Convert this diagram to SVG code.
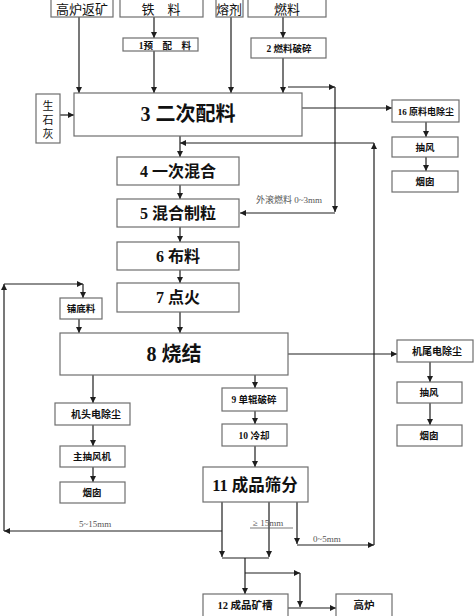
<svg xmlns="http://www.w3.org/2000/svg" width="474" height="616" viewBox="0 0 474 616">
<style>
.box{fill:#fff;stroke:#6e6e6e;stroke-width:1.2}
.ln{fill:none;stroke:#1e1e1e;stroke-width:1.2}
.t{font-family:"Liberation Serif","Noto Sans CJK SC",serif;font-weight:bold;fill:#111;text-anchor:middle}
.n{font-family:"Liberation Serif","Noto Sans CJK SC",serif;fill:#111;text-anchor:middle}
.g{font-family:"Liberation Serif","Noto Sans CJK SC",serif;fill:#555;font-size:9px}
</style>
<defs>
<marker id="a" viewBox="0 0 6 6" refX="6" refY="3" markerWidth="6" markerHeight="6" markerUnits="userSpaceOnUse" orient="auto">
<path d="M0,0 L6,3 L0,6 z" fill="#1e1e1e"/>
</marker>
</defs>
<rect width="474" height="616" fill="#fff"/>

<g id="connectors">
<path class="ln" d="M79,17 V93" marker-end="url(#a)"/>
<path class="ln" d="M154,17 V38" marker-end="url(#a)"/>
<path class="ln" d="M154,51 V93" marker-end="url(#a)"/>
<path class="ln" d="M231,17 V93" marker-end="url(#a)"/>
<path class="ln" d="M283,17 V38" marker-end="url(#a)"/>
<path class="ln" d="M283,58 V93" marker-end="url(#a)"/>
<path class="ln" d="M60,115 H74" marker-end="url(#a)"/>
<path class="ln" d="M288,87 H335" marker-end="url(#a)"/>
<path class="ln" d="M335,87 V212" marker-end="url(#a)"/>
<path class="ln" d="M335,213 H240" marker-end="url(#a)"/>
<path class="ln" d="M302,108 H392" marker-end="url(#a)"/>
<path class="ln" d="M426,122 V137" marker-end="url(#a)"/>
<path class="ln" d="M426,157 V171" marker-end="url(#a)"/>
<path class="ln" d="M180,136 V157" marker-end="url(#a)"/>
<path class="ln" d="M297,502 V544" marker-end="url(#a)"/>
<path class="ln" d="M297,545 H374" marker-end="url(#a)"/>
<path class="ln" d="M374,545 V143" marker-end="url(#a)"/>
<path class="ln" d="M374,143 H180" marker-end="url(#a)"/>
<path class="ln" d="M180,185 V199" marker-end="url(#a)"/>
<path class="ln" d="M180,227 V242" marker-end="url(#a)"/>
<path class="ln" d="M180,270 V283" marker-end="url(#a)"/>
<path class="ln" d="M180,312 V333" marker-end="url(#a)"/>
<path class="ln" d="M222,531 H4" marker-end="url(#a)"/>
<path class="ln" d="M4,531 V284" marker-end="url(#a)"/>
<path class="ln" d="M4,284 H83" marker-end="url(#a)"/>
<path class="ln" d="M83,284 V298" marker-end="url(#a)"/>
<path class="ln" d="M79,319 V333" marker-end="url(#a)"/>
<path class="ln" d="M288,354 H397" marker-end="url(#a)"/>
<path class="ln" d="M430,362 V382" marker-end="url(#a)"/>
<path class="ln" d="M430,403 V425" marker-end="url(#a)"/>
<path class="ln" d="M93,375 V403" marker-end="url(#a)"/>
<path class="ln" d="M93,425 V446" marker-end="url(#a)"/>
<path class="ln" d="M93,467 V482" marker-end="url(#a)"/>
<path class="ln" d="M255,375 V388" marker-end="url(#a)"/>
<path class="ln" d="M255,411 V424" marker-end="url(#a)"/>
<path class="ln" d="M255,446 V467" marker-end="url(#a)"/>
<path class="ln" d="M222,502 V557" marker-end="url(#a)"/>
<path class="ln" d="M269,502 V557" marker-end="url(#a)"/>
<path class="ln" d="M222,558 H269"/>
<path class="ln" d="M245,558 V594" marker-end="url(#a)"/>
<path class="ln" d="M245,573 H300" marker-end="url(#a)"/>
<path class="ln" d="M300,573 V607" marker-end="url(#a)"/>
<path class="ln" d="M288,608 H336" marker-end="url(#a)"/>
<line x1="250" y1="528" x2="293" y2="528" stroke="#555" stroke-width="0.8"/>
<text class="g" x="256" y="203">外滚燃料 0~3mm</text>
<text class="g" x="79" y="527">5~15mm</text>
<text class="g" x="253" y="526">≥ 15mm</text>
<text class="g" x="313" y="542">0~5mm</text>
</g>

<g id="n-gaolufanku"><rect class="box" x="51" y="-1" width="62" height="18"/><text class="n" x="82" y="14" font-size="13">高炉返矿</text></g>
<g id="n-tieliao"><rect class="box" x="120" y="-1" width="83" height="18"/><text class="n" x="161" y="14" font-size="13">铁　料</text></g>
<g id="n-rongji"><rect class="box" x="216" y="-1" width="27" height="18"/><text class="n" x="229" y="14" font-size="13">熔剂</text></g>
<g id="n-ranliao"><rect class="box" x="248" y="-1" width="78" height="18"/><text class="n" x="287" y="14" font-size="13">燃料</text></g>
<g id="n1"><rect class="box" x="123" y="38" width="75" height="13"/><text class="t" x="165" y="48.5" font-size="9.5">1预　配　料</text></g>
<g id="n2"><rect class="box" x="251" y="38" width="75" height="20"/><text class="t" x="289" y="51.5" font-size="9.5">2 燃料破碎</text></g>
<g id="n-shengshihui"><rect class="box" x="36" y="94" width="24" height="49"/><text class="n" x="48" y="110" font-size="11">生</text><text class="n" x="48" y="124" font-size="11">石</text><text class="n" x="48" y="138" font-size="11">灰</text></g>
<g id="n3"><rect class="box" x="74" y="93" width="228" height="43" stroke="#555"/><text class="t" x="188" y="121" font-size="20">3 二次配料</text></g>
<g id="n16"><rect class="box" x="392" y="100" width="67" height="22"/><text class="t" x="426" y="115" font-size="9">16 原料电除尘</text></g>
<g id="n-choufeng1"><rect class="box" x="392" y="137" width="66" height="20"/><text class="t" x="425" y="150.5" font-size="9.5">抽风</text></g>
<g id="n-yancong1"><rect class="box" x="392" y="171" width="66" height="21"/><text class="t" x="425" y="185" font-size="9.5">烟囱</text></g>
<g id="n4"><rect class="box" x="117" y="157" width="122" height="28"/><text class="t" x="178" y="177" font-size="16">4 一次混合</text></g>
<g id="n5"><rect class="box" x="117" y="199" width="122" height="28"/><text class="t" x="178" y="219" font-size="16">5 混合制粒</text></g>
<g id="n6"><rect class="box" x="117" y="242" width="122" height="28"/><text class="t" x="178" y="262" font-size="16">6 布料</text></g>
<g id="n7"><rect class="box" x="117" y="283" width="122" height="29"/><text class="t" x="178" y="303" font-size="16">7 点火</text></g>
<g id="n-pudiliao"><rect class="box" x="60" y="298" width="42" height="21"/><text class="t" x="81" y="312" font-size="9.5">铺底料</text></g>
<g id="n8"><rect class="box" x="60" y="333" width="228" height="42"/><text class="t" x="174" y="361" font-size="20">8 烧结</text></g>
<g id="n-jiwei"><rect class="box" x="397" y="340" width="76" height="22"/><text class="t" x="437" y="355" font-size="10">机尾电除尘</text></g>
<g id="n-choufeng2"><rect class="box" x="397" y="382" width="65" height="21"/><text class="t" x="429" y="396" font-size="9.5">抽风</text></g>
<g id="n-yancong2"><rect class="box" x="397" y="425" width="65" height="21"/><text class="t" x="429" y="439" font-size="9.5">烟囱</text></g>
<g id="n-jitou"><rect class="box" x="55" y="403" width="75" height="22"/><text class="t" x="96" y="418" font-size="10">机头电除尘</text></g>
<g id="n-zhuchoufengji"><rect class="box" x="60" y="446" width="65" height="21"/><text class="t" x="92" y="460" font-size="9.5">主抽风机</text></g>
<g id="n-yancong3"><rect class="box" x="60" y="482" width="65" height="21"/><text class="t" x="92" y="496" font-size="9.5">烟囱</text></g>
<g id="n9"><rect class="box" x="222" y="388" width="65" height="23"/><text class="t" x="254" y="403" font-size="9.5">9 单辊破碎</text></g>
<g id="n10"><rect class="box" x="222" y="424" width="65" height="22"/><text class="t" x="254" y="438.5" font-size="9.5">10 冷却</text></g>
<g id="n11"><rect class="box" x="203" y="467" width="105" height="35"/><text class="t" x="255" y="490.5" font-size="16.5">11 成品筛分</text></g>
<g id="n12"><rect class="box" x="203" y="594" width="85" height="23"/><text class="t" x="245" y="609" font-size="10.5">12 成品矿槽</text></g>
<g id="n-gaolu"><rect class="box" x="336" y="594" width="56" height="23"/><text class="t" x="364" y="609" font-size="10.5">高炉</text></g>
</svg>
